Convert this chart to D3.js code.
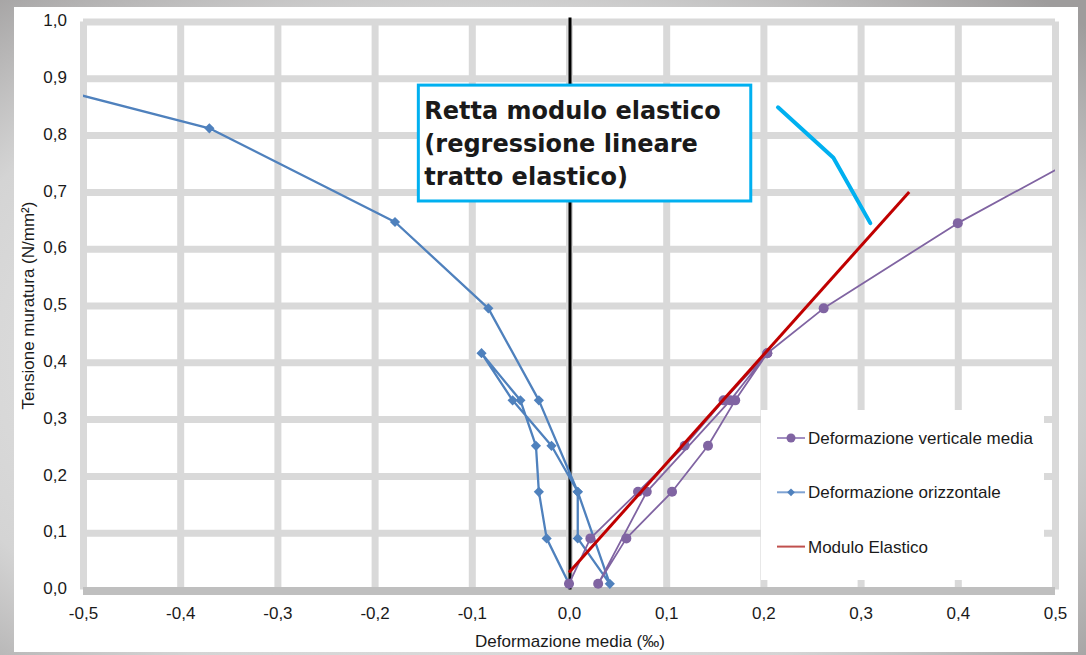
<!DOCTYPE html>
<html>
<head>
<meta charset="utf-8">
<script src="https://cdn.jsdelivr.net/npm/d3@7"></script>
<style>
  html, body { margin: 0; padding: 0; }
  body { width: 1086px; height: 655px; overflow: hidden; }
  text { font-family: "Liberation Sans", Arial, sans-serif; fill: #1a1a1a; }
</style>
</head>
<body>
<svg id="chart" width="1086" height="655"></svg>
<script>
// ticks
var xTicks = [-0.5, -0.4, -0.3, -0.2, -0.1, 0, 0.1, 0.2, 0.3, 0.4, 0.5];
var yTicks = [0, 0.1, 0.2, 0.3, 0.4, 0.5, 0.6, 0.7, 0.8, 0.9, 1.0];

// Deformazione verticale media (load / unload / reload)
var vertX = [0.000, 0.022, 0.071, 0.119, 0.159, 0.204, 0.171, 0.143, 0.106, 0.059, 0.030, 0.080, 0.166, 0.204, 0.262, 0.400, 0.577];
var vertY = [0.010, 0.090, 0.172, 0.253, 0.333, 0.416, 0.333, 0.253, 0.172, 0.090, 0.010, 0.172, 0.333, 0.416, 0.495, 0.645, 0.810];

// Deformazione orizzontale
var horizX = [0.000, -0.023, -0.031, -0.034, -0.050, -0.090, -0.058, -0.018, 0.009, 0.009, 0.042, 0.009, -0.031, -0.083, -0.179, -0.370, -0.570];
var horizY = [0.010, 0.090, 0.172, 0.253, 0.333, 0.416, 0.333, 0.253, 0.172, 0.090, 0.010, 0.172, 0.333, 0.495, 0.647, 0.812, 0.900];

// Modulo elastico (regression line)
var modX = [0.000, 0.350];
var modY = [0.030, 0.700];

// annotation (data units)
var noteLines = ["Retta modulo elastico", "(regressione lineare", "tratto elastico)"];
var noteBox = [-0.155, 0.888, 0.187, 0.684];
var calloutX = [0.215, 0.272, 0.310];
var calloutY = [0.849, 0.760, 0.645];

var seriesNames = ["Deformazione verticale media", "Deformazione orizzontale", "Modulo Elastico"];

var purple = "#8064a2", blue = "#4f81bd", red = "#c00000";

var svg = d3.select("#chart");

// slide background
var defs = svg.append("defs");
var bg = defs.append("radialGradient").attr("id", "bg").attr("cx", "45%").attr("cy", "55%").attr("r", "75%");
bg.append("stop").attr("offset", "0%").attr("stop-color", "#f2f2f2");
bg.append("stop").attr("offset", "70%").attr("stop-color", "#d4d4d4");
bg.append("stop").attr("offset", "100%").attr("stop-color", "#9e9c9c");
svg.append("rect").attr("width", 1086).attr("height", 655).attr("fill", "url(#bg)");
svg.append("rect").attr("x", 14).attr("y", 7).attr("width", 1064).attr("height", 645).attr("fill", "#fff");

var x = d3.scaleLinear().domain([-0.5, 0.5]).range([83, 1055]);
var y = d3.scaleLinear().domain([0, 1]).range([589.5, 21.5]);

defs.append("clipPath").attr("id", "plot")
  .append("rect").attr("x", x(-0.5)).attr("y", y(1)).attr("width", x(0.5) - x(-0.5)).attr("height", y(0) - y(1));

var it = d3.formatLocale({decimal: ",", thousands: ".", grouping: [3], currency: ["", "€"], minus: "-"});
var fmt = it.format(".1f");

// gridlines
svg.append("g")
  .attr("transform", "translate(0," + y(0) + ")")
  .call(d3.axisBottom(x).tickValues(xTicks).tickSize(-(y(0) - y(1))).tickFormat(""))
  .call(function (g) { g.select(".domain").remove(); })
  .selectAll("line").attr("stroke", "#d9d9d9").attr("stroke-width", 7);

svg.append("g")
  .attr("transform", "translate(" + x(-0.5) + ",0)")
  .call(d3.axisLeft(y).tickValues(yTicks.slice(1)).tickSize(-(x(0.5) - x(-0.5))).tickFormat(""))
  .call(function (g) { g.select(".domain").remove(); })
  .selectAll("line").attr("stroke", "#d9d9d9").attr("stroke-width", 7);

// x axis line + labels
var xAxis = svg.append("g")
  .attr("transform", "translate(0," + y(0) + ")")
  .call(d3.axisBottom(x).tickValues(xTicks).tickFormat(fmt).tickSize(0).tickPadding(17));
xAxis.select(".domain").attr("stroke", "#bfbfbf").attr("stroke-width", 8)
  .attr("d", "M" + x(-0.5) + ",1.5H" + x(0.5));
xAxis.selectAll("text").style("font-size", "17px").attr("font-family", null).attr("fill", "#1a1a1a");

var yAxis = svg.append("g")
  .attr("transform", "translate(" + (x(-0.5) - 4) + ",0)")
  .call(d3.axisLeft(y).tickValues(yTicks).tickFormat(fmt).tickSize(0).tickPadding(12));
yAxis.select(".domain").remove();
yAxis.selectAll("text").style("font-size", "17px").attr("font-family", null).attr("fill", "#1a1a1a").attr("dy", "0.25em");

// axis titles
svg.append("text").attr("x", (x(-0.5) + x(0.5)) / 2 + 1).attr("y", 647)
  .attr("text-anchor", "middle").style("font-size", "17px").text("Deformazione media (‰)");
svg.append("text")
  .attr("transform", "translate(34," + (y(0) + y(1)) / 2 + ") rotate(-90)")
  .attr("text-anchor", "middle").style("font-size", "17px").text("Tensione muratura (N/mm²)");

// vertical zero line
svg.append("line")
  .attr("x1", x(0) + 1).attr("x2", x(0) + 1).attr("y1", y(0)).attr("y2", y(1) - 4)
  .attr("stroke", "#000").attr("stroke-width", 3);

var plot = svg.append("g").attr("clip-path", "url(#plot)");
var line = d3.line().x(function (d) { return x(d[0]); }).y(function (d) { return y(d[1]); });

var vert = d3.zip(vertX, vertY);
var horiz = d3.zip(horizX, horizY);
var mod = d3.zip(modX, modY);

var diamond = d3.symbol(d3.symbolSquare, 52);

plot.append("path").datum(horiz).attr("d", line)
  .attr("fill", "none").attr("stroke", blue).attr("stroke-width", 2.3).attr("stroke-linejoin", "round");
plot.selectAll(".dia").data(horiz).enter().append("path").attr("class", "dia")
  .attr("d", diamond)
  .attr("transform", function (d) { return "translate(" + x(d[0]) + "," + y(d[1]) + ") rotate(45)"; })
  .attr("fill", blue);

plot.append("path").datum(vert).attr("d", line)
  .attr("fill", "none").attr("stroke", purple).attr("stroke-width", 1.8).attr("stroke-linejoin", "round");
plot.selectAll(".dot").data(vert).enter().append("circle").attr("class", "dot")
  .attr("cx", function (d) { return x(d[0]); }).attr("cy", function (d) { return y(d[1]); })
  .attr("r", 5).attr("fill", purple);

plot.append("path").datum(mod).attr("d", line)
  .attr("fill", "none").attr("stroke", red).attr("stroke-width", 3);

// legend
var leg = svg.append("g").attr("transform", "translate(761,410)");
leg.append("rect").attr("width", 283).attr("height", 170).attr("fill", "#fff");
var rows = leg.selectAll(".row").data(seriesNames).enter().append("g")
  .attr("transform", function (d, i) { return "translate(0," + (28 + i * 54.3) + ")"; });
rows.append("line").attr("x1", 16).attr("x2", 44).attr("y1", 0).attr("y2", 0)
  .attr("stroke", function (d, i) { return ["#a28fc2", "#7fa3d3", "#c0504d"][i]; })
  .attr("stroke-width", 2);
rows.filter(function (d, i) { return i === 0; }).append("circle").attr("cx", 30).attr("r", 4.5).attr("fill", purple);
rows.filter(function (d, i) { return i === 1; }).append("path")
  .attr("d", d3.symbol(d3.symbolSquare, 30)).attr("transform", "translate(30,0) rotate(45)").attr("fill", blue);
rows.append("text").attr("x", 47).attr("y", 6).style("font-size", "17px").text(function (d) { return d; });

// annotation box + callout
var bx0 = x(noteBox[0]), by0 = y(noteBox[1]), bx1 = x(noteBox[2]), by1 = y(noteBox[3]);
svg.append("rect").attr("x", bx0).attr("y", by0).attr("width", bx1 - bx0).attr("height", by1 - by0)
  .attr("fill", "#fff").attr("stroke", "#00b0f0").attr("stroke-width", 3);
svg.append("text").attr("x", bx0 + 6).attr("y", by0 + 34)
  .style("font-family", "'DejaVu Sans', sans-serif").style("font-weight", "bold").style("font-size", "24px")
  .attr("fill", "#111")
  .selectAll("tspan").data(noteLines).enter().append("tspan")
  .attr("x", bx0 + 6).attr("dy", function (d, i) { return i ? 33 : 0; }).text(function (d) { return d; });

svg.append("path").datum(d3.zip(calloutX, calloutY)).attr("d", line)
  .attr("fill", "none").attr("stroke", "#00b0f0").attr("stroke-width", 4)
  .attr("stroke-linecap", "round").attr("stroke-linejoin", "round");
</script>
</body>
</html>
